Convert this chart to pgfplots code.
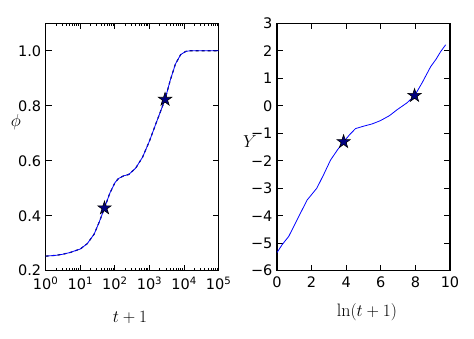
\documentclass[border=0pt]{standalone}
\usepackage{fontspec}
\usepackage{pgfplots}
\pgfplotsset{compat=1.18}
\newfontfamily\dejavu{DejaVu Sans}
\pgfdeclareplotmark{fstar}{%
  \pgfpathmoveto{\pgfpointpolar{90}{\pgfplotmarksize}}%
  \pgfpathlineto{\pgfpointpolar{126}{0.382\pgfplotmarksize}}%
  \pgfpathlineto{\pgfpointpolar{162}{\pgfplotmarksize}}%
  \pgfpathlineto{\pgfpointpolar{198}{0.382\pgfplotmarksize}}%
  \pgfpathlineto{\pgfpointpolar{234}{\pgfplotmarksize}}%
  \pgfpathlineto{\pgfpointpolar{270}{0.382\pgfplotmarksize}}%
  \pgfpathlineto{\pgfpointpolar{306}{\pgfplotmarksize}}%
  \pgfpathlineto{\pgfpointpolar{342}{0.382\pgfplotmarksize}}%
  \pgfpathlineto{\pgfpointpolar{18}{\pgfplotmarksize}}%
  \pgfpathlineto{\pgfpointpolar{54}{0.382\pgfplotmarksize}}%
  \pgfpathclose
  \pgfusepathqfillstroke}
\pgfplotsset{
  myax/.style={
    scale only axis, width=173pt, height=247.4pt, anchor=south west,
    axis line style={line width=1.2pt},
    every tick/.style={black, line width=0.9pt},
    major tick length=6pt, minor tick length=3pt,
    tick align=inside,
    tick label style={font=\dejavu\fontsize{14.5}{16}\selectfont},
    /pgf/number format/assume math mode=true,
    label style={font=\fontsize{18}{20}\selectfont},
    xticklabel style={yshift=-3pt},
    yticklabel style={xshift=-1pt},
  },
  starmk/.style={only marks, mark=fstar, mark size=7pt,
    mark options={fill=blue!50!black, draw=black, line width=0.6pt}},
}
\begin{document}
\begin{tikzpicture}
\useasboundingbox (0,0) rectangle (474pt,338pt);
\begin{axis}[myax, at={(45.7pt,67.3pt)},
  xmode=log, xmin=1, xmax=1e5, ymin=0.2, ymax=1.1,
  xtick={1,10,100,1000,10000,100000},
  xticklabels={10\textsuperscript{0},10\textsuperscript{1},10\textsuperscript{2},10\textsuperscript{3},10\textsuperscript{4},10\textsuperscript{5}},
  ytick={0.2,0.4,0.6,0.8,1.0},
  yticklabels={0.2,0.4,0.6,0.8,1.0},
  xlabel={$t+1$}, ylabel={$\phi$},
  xlabel style={at={(axis description cs:0.487,-0.191)}, anchor=center},
  ylabel style={at={(axis description cs:-0.172,0.60)}, anchor=center, rotate=-90},
]
\addplot[black, dashed, line width=1.1pt] coordinates {
(1,0.253) (2,0.256) (3.16,0.26) (5.01,0.266) (10,0.279) (15.8,0.298) (25.1,0.333) (35.5,0.378) (50.1,0.428) (70.8,0.481) (100,0.52) (126,0.535) (178,0.545) (251,0.55) (398,0.573) (631,0.613) (1000,0.672) (1585,0.74) (2818,0.823) (3981,0.893) (5623,0.952) (7943,0.986) (11220,0.998) (15000,1.0) (100000,1.0)};
\addplot[blue, line width=0.8pt] coordinates {
(1,0.253) (2,0.256) (3.16,0.26) (5.01,0.266) (10,0.279) (15.8,0.298) (25.1,0.333) (35.5,0.378) (50.1,0.428) (70.8,0.481) (100,0.52) (126,0.535) (178,0.545) (251,0.55) (398,0.573) (631,0.613) (1000,0.672) (1585,0.74) (2818,0.823) (3981,0.893) (5623,0.952) (7943,0.986) (11220,0.998) (15000,1.0) (100000,1.0)};
\addplot[starmk] coordinates {(50,0.428) (2818,0.823)};
\end{axis}
\begin{axis}[myax, at={(277pt,67.3pt)},
  xmin=0, xmax=10, ymin=-6, ymax=3,
  xtick={0,2,4,6,8,10}, xticklabels={0,2,4,6,8,10},
  ytick={-6,-5,-4,-3,-2,-1,0,1,2,3},
  yticklabels={−6,−5,−4,−3,−2,−1,0,1,2,3},
  xlabel={$\ln(t+1)$}, ylabel={$Y$},
  xlabel style={at={(axis description cs:0.52,-0.167)}, anchor=center},
  ylabel style={at={(axis description cs:-0.156,0.52)}, anchor=center, rotate=-90},
]
\addplot[blue, line width=0.8pt] coordinates {
(0,-5.34) (0.3,-5.05) (0.68,-4.75) (1.2,-4.1) (1.74,-3.43) (2.3,-3.0) (2.7,-2.5) (3.09,-1.98) (3.5,-1.6) (3.85,-1.31) (4.2,-1.05) (4.54,-0.83) (5.02,-0.74) (5.5,-0.66) (5.98,-0.54) (6.5,-0.36) (6.95,-0.14) (7.5,0.1) (7.95,0.36) (8.4,0.85) (8.88,1.42) (9.2,1.7) (9.46,1.97) (9.75,2.22)};
\addplot[starmk] coordinates {(3.85,-1.31) (7.95,0.37)};
\end{axis}
\end{tikzpicture}
\end{document}
